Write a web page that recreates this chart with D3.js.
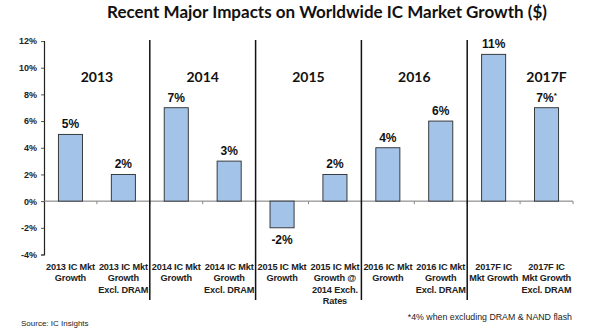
<!DOCTYPE html>
<html>
<head>
<meta charset="utf-8">
<script src="https://cdn.jsdelivr.net/npm/d3@7"></script>
<style>
  html, body { margin: 0; padding: 0; background: #fff; }
  svg { display: block; }
</style>
</head>
<body>
<svg id="chart" width="600" height="331"></svg>
<script>
// category labels, one array of lines per bar
const categories = [
  ['2013 IC Mkt', 'Growth'],
  ['2013 IC Mkt', 'Growth', 'Excl. DRAM'],
  ['2014 IC Mkt', 'Growth'],
  ['2014 IC Mkt', 'Growth', 'Excl. DRAM'],
  ['2015 IC Mkt', 'Growth'],
  ['2015 IC Mkt', 'Growth @', '2014 Exch.', 'Rates'],
  ['2016 IC Mkt', 'Growth'],
  ['2016 IC Mkt', 'Growth', 'Excl. DRAM'],
  ['2017F IC', 'Mkt Growth'],
  ['2017F IC', 'Mkt Growth', 'Excl. DRAM']
];
const growth = [5, 2, 7, 3, -2, 2, 4, 6, 11, 7];
const valueNotes = ['', '', '', '', '', '', '', '', '', '*'];
const years = ['2013', '2014', '2015', '2016', '2017F'];
// bar index each year label sits over (-1 = centred on its pair)
const yearAnchor = [-1, -1, -1, -1, 9];
const yTicks = [-4, -2, 0, 2, 4, 6, 8, 10, 12];

const svg = d3.select('#chart');
const plot = { left: 44, right: 573, top: 41, bottom: 254.5 };

const ids = d3.range(categories.length);
const x = d3.scaleBand(ids, [plot.left, plot.right]).paddingInner(0.545).paddingOuter(0.2725);
const y = d3.scaleLinear([-4, 12], [plot.bottom, plot.top]);
const step = x.step();

const arial = '"Liberation Sans", Arial, sans-serif';
const calibri = 'Lato, "Open Sans", sans-serif';

// title
svg.append('text')
  .attr('x', 327).attr('y', 18)
  .attr('text-anchor', 'middle')
  .attr('font-family', calibri)
  .attr('font-weight', 700)
  .attr('font-size', 17)
  .attr('fill', '#111')
  .text('Recent Major Impacts on Worldwide IC Market Growth ($)');

// y axis
const yAxis = svg.append('g')
  .attr('transform', `translate(${plot.left},0)`)
  .call(d3.axisLeft(y).tickValues(yTicks).tickSize(3).tickFormat(d => d + '%'));
yAxis.select('.domain').attr('stroke', '#222').attr('stroke-width', 1.2);
yAxis.selectAll('.tick line').attr('stroke', '#555');
yAxis.selectAll('.tick text')
  .attr('x', -7)
  .attr('font-family', arial)
  .attr('font-weight', 700)
  .attr('font-size', 9)
  .attr('fill', '#222');

// zero line with small ticks at category boundaries
svg.append('line')
  .attr('x1', plot.left).attr('x2', plot.right)
  .attr('y1', y(0)).attr('y2', y(0))
  .attr('stroke', '#777').attr('stroke-width', 1);
svg.append('g')
  .selectAll('line')
  .data(d3.range(1, categories.length + 1))
  .join('line')
    .attr('x1', i => plot.left + i * step).attr('x2', i => plot.left + i * step)
    .attr('y1', y(0)).attr('y2', y(0) + 3)
    .attr('stroke', '#888');

// group separators
svg.append('g')
  .selectAll('line')
  .data([2, 4, 6, 8])
  .join('line')
    .attr('x1', i => plot.left + i * step).attr('x2', i => plot.left + i * step)
    .attr('y1', 40).attr('y2', 300)
    .attr('stroke', '#111').attr('stroke-width', 1.5);

// bars
svg.append('g')
  .selectAll('rect')
  .data(ids)
  .join('rect')
    .attr('x', i => x(i))
    .attr('y', i => y(Math.max(0, growth[i])))
    .attr('width', x.bandwidth())
    .attr('height', i => Math.abs(y(growth[i]) - y(0)))
    .attr('fill', '#a3c3e9')
    .attr('stroke', '#2a2a2a')
    .attr('stroke-width', 0.9);

// value labels
const vl = svg.append('g')
  .selectAll('text')
  .data(ids)
  .join('text')
    .attr('x', i => x(i) + x.bandwidth() / 2)
    .attr('y', i => growth[i] >= 0 ? y(growth[i]) - 6 : y(growth[i]) + 16)
    .attr('text-anchor', 'middle')
    .attr('font-family', arial)
    .attr('font-weight', 700)
    .attr('font-size', 12)
    .attr('fill', '#111');
vl.append('tspan').text(i => growth[i] + '%');
vl.append('tspan')
  .attr('dy', -4)
  .attr('font-size', 8)
  .text(i => valueNotes[i]);

// year labels
svg.append('g')
  .selectAll('text')
  .data(years)
  .join('text')
    .attr('x', (d, k) => yearAnchor[k] >= 0
      ? x(yearAnchor[k]) + x.bandwidth() / 2
      : plot.left + (2 * k + 1) * step)
    .attr('y', 82)
    .attr('text-anchor', 'middle')
    .attr('font-family', calibri)
    .attr('font-weight', 700)
    .attr('font-size', 14)
    .attr('fill', '#111')
    .text(d => d);

// category labels
svg.append('g')
  .selectAll('text')
  .data(ids)
  .join('text')
    .attr('y', 270)
    .attr('text-anchor', 'middle')
    .attr('font-family', arial)
    .attr('font-weight', 700)
    .attr('font-size', 9.2)
    .attr('letter-spacing', -0.15)
    .attr('fill', '#222')
  .selectAll('tspan')
  .data(i => categories[i].map(t => ({ t, i })))
  .join('tspan')
    .attr('x', d => x(d.i) + x.bandwidth() / 2)
    .attr('dy', (d, k) => k === 0 ? 0 : 11.4)
    .text(d => d.t);

// footnote and source
svg.append('text')
  .attr('x', 572).attr('y', 320)
  .attr('text-anchor', 'end')
  .attr('font-family', arial)
  .attr('font-size', 8.8)
  .attr('fill', '#222')
  .text('*4% when excluding DRAM & NAND flash');
svg.append('text')
  .attr('x', 21).attr('y', 326)
  .attr('font-family', arial)
  .attr('font-size', 8)
  .attr('fill', '#222')
  .text('Source: IC Insights');
</script>
</body>
</html>
